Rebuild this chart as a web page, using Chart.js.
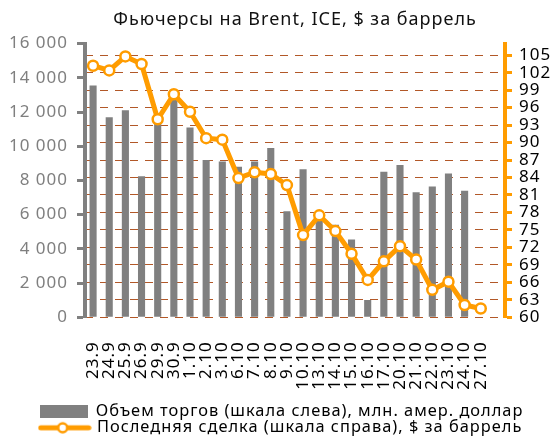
<!DOCTYPE html>
<html><head><meta charset="utf-8">
<script src="https://cdn.jsdelivr.net/npm/chart.js@4"></script>
<style>html,body{margin:0;padding:0;background:#fff}#wrap{width:553px;height:442px}</style>
</head><body><div id="wrap"><canvas id="c" width="553" height="442"></canvas></div>
<script>
const categories = ['23.9','24.9','25.9','26.9','29.9','30.9','1.10','2.10','3.10','6.10','7.10','8.10','9.10','10.10','13.10','14.10','15.10','16.10','17.10','20.10','21.10','22.10','23.10','24.10','27.10',''];
const volume = [13550, 11700, 12100, 8250, 11400, 13300, 11100, 9200, 9100, 8800, 9100, 9900, 6200, 8650, 5700, 5400, 4550, 1000, 8500, 8900, 7300, 7650, 8400, 7400, null, null];
const price = [103.2, 102.4, 104.8, 103.5, 94.0, 98.3, 95.3, 90.75, 90.5, 83.9, 84.9, 84.6, 82.7, 74.1, 77.5, 74.8, 70.9, 66.4, 69.6, 72.2, 69.9, 64.7, 66.1, 62.1, 61.5, null];
const titleText = 'Фьючерсы на Brent, ICE, $ за баррель';
const volumeLabel = 'Объем торгов (шкала слева), млн. амер. доллар';
const priceLabel = 'Последняя сделка (шкала справа), $ за баррель';

const ORANGE = '#FF9C00';
const GRAY = '#808080';
const FONT = 'Noto Sans';

function rectIcon(){
  const c = document.createElement('canvas'); c.width = 48; c.height = 13;
  const x = c.getContext('2d'); x.fillStyle = GRAY; x.fillRect(0,0,48,13); return c;
}
function lineIcon(){
  const c = document.createElement('canvas'); c.width = 54; c.height = 14;
  const x = c.getContext('2d');
  x.strokeStyle = ORANGE; x.lineWidth = 5; x.lineCap = 'round';
  x.beginPath(); x.moveTo(3,7); x.lineTo(51,7); x.stroke();
  x.beginPath(); x.arc(25,7,4.5,0,Math.PI*2); x.fillStyle='#fff'; x.fill();
  x.lineWidth = 2.5; x.stroke();
  return c;
}
const fmt = v => String(v).replace(/\B(?=(\d{3})+(?!\d))/g, '\u00a0');

const spacing = {
  id: 'spacing',
  beforeLayout(chart){ chart.ctx.letterSpacing = '1px'; },
  beforeDraw(chart){ chart.ctx.letterSpacing = '1px'; }
};

new Chart(document.getElementById('c'), {
  plugins: [spacing],
  data: {
    labels: categories,
    datasets: [
      { type: 'line', label: priceLabel, data: price, yAxisID: 'y1',
        borderColor: ORANGE, borderWidth: 5, pointRadius: 5, pointBorderWidth: 2.5,
        pointBackgroundColor: '#fff', pointBorderColor: ORANGE, tension: 0, spanGaps: false },
      { type: 'bar', label: volumeLabel, data: volume, yAxisID: 'y',
        backgroundColor: GRAY, categoryPercentage: 1, barPercentage: 0.44 }
    ]
  },
  options: {
    responsive: false, devicePixelRatio: 1, animation: false,
    layout: { padding: { left: 10, right: 0, top: 0, bottom: -4 } },
    plugins: {
      tooltip: { enabled: false },
      title: { display: true, text: titleText, fullSize: false, color: '#111',
        font: { family: FONT, size: 18, weight: 'normal' }, padding: { top: 9, bottom: 13 } },
      legend: { position: 'bottom',
        labels: { usePointStyle: true, pointStyleWidth: 48, padding: 0, color: '#000',
          font: { family: FONT, size: 16.4 },
          generateLabels: () => [
            { text: volumeLabel, pointStyle: rectIcon(), fillStyle: GRAY, strokeStyle: GRAY, lineWidth: 0, hidden: false, datasetIndex: 1 },
            { text: priceLabel, pointStyle: lineIcon(), fillStyle: ORANGE, strokeStyle: ORANGE, lineWidth: 0, hidden: false, datasetIndex: 0 }
          ] } }
    },
    scales: {
      x: { grid: { display: false }, border: { display: false },
        afterFit: s => { s.height = 86; },
        ticks: { autoSkip: false, minRotation: 90, maxRotation: 90, padding: 16, color: '#000',
          font: { family: FONT, size: 17 } } },
      y: { position: 'left', min: 0, max: 16000,
        afterFit: s => { s.width = 75; },
        grid: { drawOnChartArea: false, drawTicks: true, tickLength: 8, tickWidth: 3, tickColor: GRAY },
        border: { display: true, color: GRAY, width: 4 },
        ticks: { stepSize: 2000, padding: 9, color: '#7F7F7F', font: { family: FONT, size: 17 }, callback: v => fmt(v) } },
      y1: { position: 'right', min: 60, max: 107,
        afterFit: s => { s.width = 48; },
        grid: { drawOnChartArea: true, color: 'rgb(178,88,40)', lineWidth: 1, drawTicks: true, tickLength: 7, tickWidth: 3, tickColor: ORANGE },
        border: { display: true, color: ORANGE, width: 4, dash: [8,7] },
        ticks: { stepSize: 3, includeBounds: false, autoSkip: false, padding: 7, color: '#000', font: { family: FONT, size: 17 } } }
    }
  }
});
</script>
</body></html>
